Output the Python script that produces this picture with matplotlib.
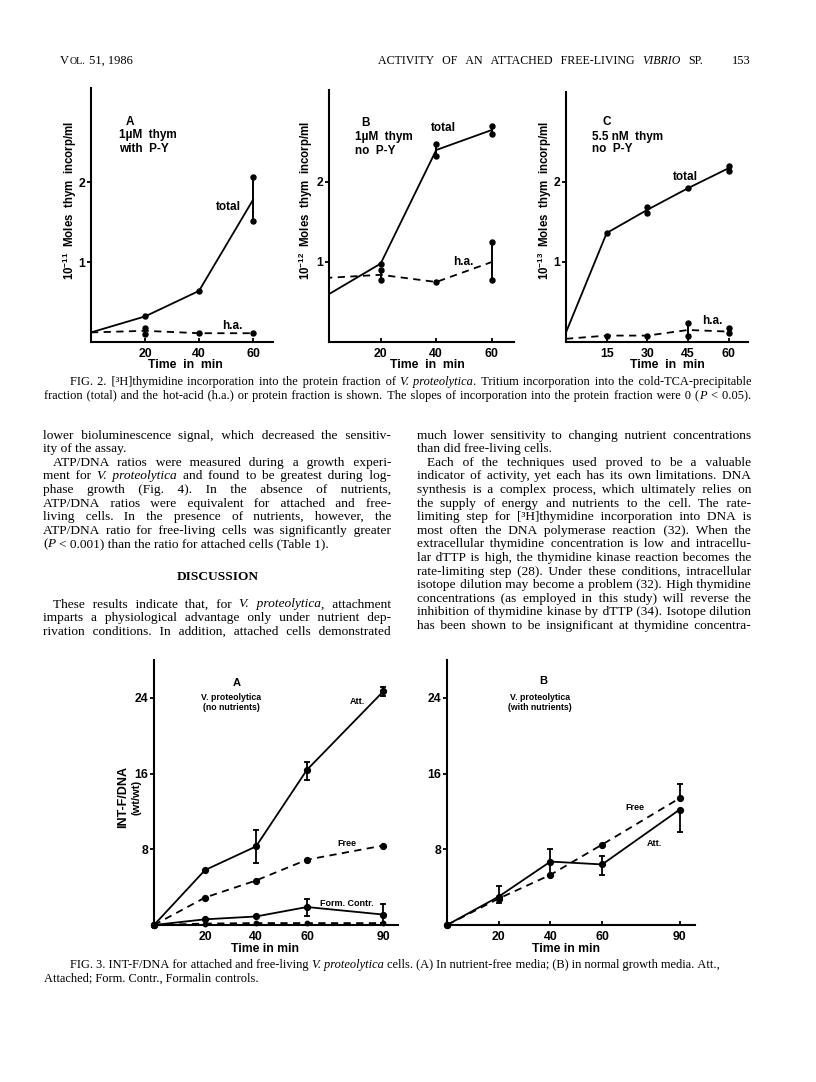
import numpy as np
import matplotlib
matplotlib.use('Agg')
import matplotlib.pyplot as plt

W, H = 816, 1082
SERIF = ['Liberation Serif', 'DejaVu Serif']
SANS = 'Liberation Sans'

plt.rcParams['mathtext.fontset'] = 'custom'
plt.rcParams['mathtext.rm'] = SANS
plt.rcParams['mathtext.bf'] = SANS + ':bold'

# ---- Fig. 2 data (thymidine incorporation) ----
t2 = [0, 20, 40, 60]
t2c = [0, 15, 30, 45, 60]

a_total = [0.12, 0.32, 0.64, 1.78]
a_total_reps = [[], [0.32], [0.64], [1.52, 2.07]]
a_ha = [0.12, 0.14, 0.11, 0.11]
a_ha_reps = [[], [0.10, 0.18], [0.11], [0.11]]

b_total = [0.57, 0.98, 2.40, 2.65]
b_total_reps = [[], [0.98], [2.33, 2.48], [2.60, 2.70]]
b_ha = [0.80, 0.84, 0.75, 1.00]
b_ha_reps = [[], [0.78, 0.90], [0.75], [0.78, 1.25]]

c_total = [0.12, 1.36, 1.65, 1.92, 2.17]
c_total_reps = [[], [1.36], [1.61, 1.68], [1.92], [2.13, 2.20]]
c_ha = [0.04, 0.08, 0.08, 0.15, 0.13]
c_ha_reps = [[], [0.08], [0.08], [0.08, 0.24], [0.11, 0.17]]

fig2_xticks = [20, 40, 60]
fig2c_xticks = [15, 30, 45, 60]
fig2_yticks = [1, 2]

# ---- Fig. 3 data (INT-F/DNA) ----
nan = np.nan
t3 = [0, 20, 40, 60, 90]
att_a = [0, 5.8, 8.3, 16.4, 24.7]
att_a_lo = [nan, nan, 6.6, 15.3, 24.2]
att_a_hi = [nan, nan, 10.0, 17.2, 25.2]
free_a = [0, 2.9, 4.7, 6.9, 8.4]
form_att_a = [0, 0.6, 0.9, 1.9, 1.1]
form_att_a_lo = [nan, nan, nan, 0.9, 0.2]
form_att_a_hi = [nan, nan, nan, 2.8, 2.2]
form_free_a = [0, 0.15, 0.2, 0.2, 0.2]

att_b = [0, 3.0, 6.7, 6.4, 12.2]
att_b_lo = [nan, 2.3, 5.3, 5.3, 9.8]
att_b_hi = [nan, 4.1, 8.0, 7.3, nan]
free_b = [0, 2.8, 5.3, 8.5, 13.4]
free_b_lo = [nan, nan, nan, nan, nan]
free_b_hi = [nan, nan, nan, nan, 14.9]

fig3_xticks = [20, 40, 60, 90]
fig3_yticks = [8, 16, 24]

# ---- page text ----
left_col = [
    ("lower bioluminescence signal, which decreased the sensitiv-", True, 0),
    ("ity of the assay.", False, 0),
    ("ATP/DNA ratios were measured during a growth experi-", True, 10),
    ("ment for _V._ _proteolytica_ and found to be greatest during log-", True, 0),
    ("phase growth (Fig. 4). In the absence of nutrients,", True, 0),
    ("ATP/DNA ratios were equivalent for attached and free-", True, 0),
    ("living cells. In the presence of nutrients, however, the", True, 0),
    ("ATP/DNA ratio for free-living cells was significantly greater", True, 0),
    ("(_P_ < 0.001) than the ratio for attached cells (Table 1).", False, 0),
]
left_col2 = [
    ("These results indicate that, for _V._ _proteolytica_, attachment", True, 10),
    ("imparts a physiological advantage only under nutrient dep-", True, 0),
    ("rivation conditions. In addition, attached cells demonstrated", True, 0),
]
right_col = [
    ("much lower sensitivity to changing nutrient concentrations", True, 0),
    ("than did free-living cells.", False, 0),
    ("Each of the techniques used proved to be a valuable", True, 10),
    ("indicator of activity, yet each has its own limitations. DNA", True, 0),
    ("synthesis is a complex process, which ultimately relies on", True, 0),
    ("the supply of energy and nutrients to the cell. The rate-", True, 0),
    ("limiting step for [\u00b3H]thymidine incorporation into DNA is", True, 0),
    ("most often the DNA polymerase reaction (32). When the", True, 0),
    ("extracellular thymidine concentration is low and intracellu-", True, 0),
    ("lar dTTP is high, the thymidine kinase reaction becomes the", True, 0),
    ("rate-limiting step (28). Under these conditions, intracellular", True, 0),
    ("isotope dilution may become a problem (32). High thymidine", True, 0),
    ("concentrations (as employed in this study) will reverse the", True, 0),
    ("inhibition of thymidine kinase by dTTP (34). Isotope dilution", True, 0),
    ("has been shown to be insignificant at thymidine concentra-", True, 0),
]

fig2_caption = [
    ("FIG. 2. [\u00b3H]thymidine incorporation into the protein fraction of _V._ _proteolytica_. "
     "Tritium incorporation into the cold-TCA-precipitable", True, 26),
    ("fraction (total) and the hot-acid (h.a.) or protein fraction is shown. The slopes of "
     "incorporation into the protein fraction were 0 (_P_ < 0.05).", True, 0),
]
fig3_caption = [
    ("FIG. 3. INT-F/DNA for attached and free-living _V._ _proteolytica_ cells. (A) In "
     "nutrient-free media; (B) in normal growth media. Att.,", False, 26),
    ("Attached; Form. Contr., Formalin controls.", False, 0),
]

LEAD = 13.6  # body text line pitch in pixels

fig = plt.figure(figsize=(W / 100, H / 100), dpi=100)
renderer = fig.canvas.get_renderer()


def ftext(x, y, s, **kw):
    # place text using page pixel coordinates (y down)
    return fig.text(x / W, 1 - y / H, s, **kw)


def text_width(s, size, style='normal', weight='normal'):
    t = fig.text(0, 0, s, fontsize=size, family=SERIF, style=style, weight=weight)
    w = t.get_window_extent(renderer).width
    t.remove()
    return w


def filler(size):
    # smallest usable space glyph, used to stretch word gaps
    for ch in ['\u200a', '\u2009', ' ']:
        w = (text_width('n' + ch * 20 + 'n', size) - text_width('nn', size)) / 20
        if w > 0.4:
            return ch, w
    return ' ', 2.5


def segments(word):
    parts = word.split('_')
    return [(p, 'italic' if i % 2 else 'normal') for i, p in enumerate(parts) if p]


def body_line(s, x0, x1, y, size, justify=True, indent=0, weight='normal'):
    words = [segments(w) for w in s.split(' ')]
    widths = [sum(text_width(p, size, st, weight) for p, st in w) for w in words]
    space = text_width('n n', size) - text_width('nn', size)
    gap = space
    if justify and len(words) > 1:
        gap = (x1 - x0 - indent - sum(widths)) / (len(words) - 1)
    fch, fw = filler(size)
    # runs of same style drawn as one text each, so the baseline stays level
    runs = []
    target = x0 + indent
    for i, w in enumerate(words):
        for j, (p, st) in enumerate(w):
            if runs and runs[-1][1] == st:
                rx, _, rs = runs[-1]
                if j == 0:
                    end = rx + text_width(rs, size, st, weight)
                    k = max(1, int(round((target - end) / fw)))
                    runs[-1][2] = rs + fch * k + p
                else:
                    runs[-1][2] = rs + p
            else:
                if j == 0:
                    rx = target
                else:
                    prx, pst, prs = runs[-1]
                    rx = prx + text_width(prs, size, pst, weight)
                runs.append([rx, st, p])
        target += widths[i] + gap
    for rx, st, rs in runs:
        ftext(rx, y, rs, fontsize=size, family=SERIF, style=st, weight=weight,
              va='baseline', ha='left')


def make_axes(l, r, t, b, xlim, ylim, xticks, yticks):
    ax = fig.add_axes([l / W, 1 - b / H, (r - l) / W, (b - t) / H])
    ax.patch.set_alpha(0)
    ax.spines['top'].set_visible(False)
    ax.spines['right'].set_visible(False)
    ax.spines['left'].set_linewidth(1.5)
    ax.spines['bottom'].set_linewidth(1.5)
    ax.set_xlim(*xlim)
    ax.set_ylim(*ylim)
    ax.set_xticks(xticks)
    ax.set_yticks(yticks)
    ax.set_xticklabels([str(v) for v in xticks], fontweight='bold', family=SANS, fontsize=8.8)
    ax.set_yticklabels([str(v) for v in yticks], fontweight='bold', family=SANS, fontsize=8.8)
    ax.tick_params(axis='y', direction='out', length=3, width=1.3, pad=1)
    ax.tick_params(axis='x', direction='in', length=3, width=1.3, pad=4)
    return ax


def fig2_series(ax, t, vals, reps, dashed):
    ls = (0, (4, 3)) if dashed else '-'
    ax.plot(t, vals, color='k', lw=1.3, ls=ls)
    for ti, r in zip(t, reps):
        if r:
            ax.plot([ti] * len(r), r, color='k', lw=1.4, marker='o', ms=3.6, clip_on=False)


def fig3_series(ax, t, vals, lo, hi, dashed, ms=4.2):
    ls = (0, (4, 3)) if dashed else '-'
    ax.plot(t, vals, color='k', lw=1.3, ls=ls, marker='o', ms=ms, clip_on=False)
    for ti, v, l, h in zip(t, vals, lo, hi):
        for e in (l, h):
            if not np.isnan(e):
                ax.plot([ti, ti], [v, e], color='k', lw=1.3)
                ax.plot(ti, e, color='k', marker='_', ms=5, mew=1.3)


# ---- running head (small caps "Vol.") ----
hx = 60
for piece, sz in [('V', 9), ('OL.', 7.2), (' 51, 1986', 9)]:
    ftext(hx, 64, piece, fontsize=sz, family=SERIF, va='baseline')
    hx += text_width(piece, sz) + 0.6
body_line('ACTIVITY OF AN ATTACHED FREE-LIVING _VIBRIO_ SP.', 378, 703, 64, 8.6)
ftext(751, 64, '153', fontsize=9, family=SERIF, va='baseline', ha='right')

# ---- Fig. 2 panels ----
sans_b = dict(family=SANS, fontweight='bold')

ax = make_axes(91, 273, 88, 342, (0, 67.4), (0, 3.18), fig2_xticks, fig2_yticks)
fig2_series(ax, t2, a_total, a_total_reps, False)
fig2_series(ax, t2, a_ha, a_ha_reps, True)
ftext(130, 122, 'A', fontsize=8.5, ha='center', va='center', **sans_b)
ftext(119, 135, '1\u00b5M  thym', fontsize=8.5, ha='left', va='center', **sans_b)
ftext(119, 149, 'with  P-Y', fontsize=8.5, ha='left', va='center', **sans_b)
ftext(228, 207, 'total', fontsize=8.5, ha='center', va='center', **sans_b)
ftext(232, 326, 'h.a.', fontsize=8.5, ha='center', va='center', **sans_b)
ftext(70, 200, r'$\mathbf{10^{-11}}$  Moles  thym  incorp/ml', fontsize=8.3, rotation=90,
      ha='center', va='center', **sans_b)
ftext(185, 365, 'Time  in  min', fontsize=8.8, ha='center', va='center', **sans_b)

ax = make_axes(329, 514, 90, 342, (1.4, 68.0), (0, 3.15), fig2_xticks, fig2_yticks)
fig2_series(ax, t2, b_total, b_total_reps, False)
fig2_series(ax, t2, b_ha, b_ha_reps, True)
ftext(366, 123, 'B', fontsize=8.5, ha='center', va='center', **sans_b)
ftext(355, 137, '1\u00b5M  thym', fontsize=8.5, ha='left', va='center', **sans_b)
ftext(355, 151, 'no  P-Y', fontsize=8.5, ha='left', va='center', **sans_b)
ftext(443, 128, 'total', fontsize=8.5, ha='center', va='center', **sans_b)
ftext(463, 262, 'h.a.', fontsize=8.5, ha='center', va='center', **sans_b)
ftext(306, 200, r'$\mathbf{10^{-12}}$  Moles  thym  incorp/ml', fontsize=8.3, rotation=90,
      ha='center', va='center', **sans_b)
ftext(427, 365, 'Time  in  min', fontsize=8.8, ha='center', va='center', **sans_b)

ax = make_axes(566, 748, 92, 342, (0, 67.1), (0, 3.12), fig2c_xticks, fig2_yticks)
fig2_series(ax, t2c, c_total, c_total_reps, False)
fig2_series(ax, t2c, c_ha, c_ha_reps, True)
ftext(607, 122, 'C', fontsize=8.5, ha='center', va='center', **sans_b)
ftext(592, 137, '5.5 nM  thym', fontsize=8.5, ha='left', va='center', **sans_b)
ftext(592, 149, 'no  P-Y', fontsize=8.5, ha='left', va='center', **sans_b)
ftext(685, 177, 'total', fontsize=8.5, ha='center', va='center', **sans_b)
ftext(712, 321, 'h.a.', fontsize=8.5, ha='center', va='center', **sans_b)
ftext(545, 200, r'$\mathbf{10^{-13}}$  Moles  thym  incorp/ml', fontsize=8.3, rotation=90,
      ha='center', va='center', **sans_b)
ftext(667, 365, 'Time  in  min', fontsize=8.8, ha='center', va='center', **sans_b)

for k, (s, just, ind) in enumerate(fig2_caption):
    body_line(s, 44, 751, 385 + 14 * k, 8.9, just, ind)

# ---- body text ----
for k, (s, just, ind) in enumerate(left_col):
    body_line(s, 43, 391, 438.5 + LEAD * k, 9.6, just, ind)
ftext(218, 580.5, 'DISCUSSION', fontsize=9.6, family=SERIF, fontweight='bold',
      ha='center', va='baseline')
for k, (s, just, ind) in enumerate(left_col2):
    body_line(s, 43, 391, 607.5 + LEAD * k, 9.6, just, ind)
for k, (s, just, ind) in enumerate(right_col):
    body_line(s, 417, 751, 438.5 + LEAD * k, 9.6, just, ind)

# ---- Fig. 3 panels ----
ax = make_axes(154, 398, 660, 925, (0, 95.7), (0, 28.0), fig3_xticks, fig3_yticks)
fig3_series(ax, t3, att_a, att_a_lo, att_a_hi, False)
fig3_series(ax, t3, free_a, [nan] * 5, [nan] * 5, True)
fig3_series(ax, t3, form_att_a, form_att_a_lo, form_att_a_hi, False)
fig3_series(ax, t3, form_free_a, [nan] * 5, [nan] * 5, True, ms=3.2)
ftext(237, 683, 'A', fontsize=8, ha='center', va='center', **sans_b)
ftext(231, 697, 'V. proteolytica', fontsize=6.3, ha='center', va='center', **sans_b)
ftext(231, 707, '(no nutrients)', fontsize=6.3, ha='center', va='center', **sans_b)
ftext(357, 702, 'Att.', fontsize=6.5, ha='center', va='center', **sans_b)
ftext(347, 843, 'Free', fontsize=6.5, ha='center', va='center', **sans_b)
ftext(347, 904, 'Form. Contr.', fontsize=6.5, ha='center', va='center', **sans_b)
ftext(123, 797, 'INT-F/DNA', fontsize=9, rotation=90, ha='center', va='center', **sans_b)
ftext(137, 797, '(wt/wt)', fontsize=8, rotation=90, ha='center', va='center', **sans_b)
ftext(265, 949, 'Time in min', fontsize=8.8, ha='center', va='center', **sans_b)

ax = make_axes(447, 695, 660, 925, (0, 95.9), (0, 28.0), fig3_xticks, fig3_yticks)
fig3_series(ax, t3, att_b, att_b_lo, att_b_hi, False)
fig3_series(ax, t3, free_b, free_b_lo, free_b_hi, True)
ftext(543, 681, 'B', fontsize=8, ha='center', va='center', **sans_b)
ftext(540, 697, 'V. proteolytica', fontsize=6.3, ha='center', va='center', **sans_b)
ftext(540, 707, '(with nutrients)', fontsize=6.3, ha='center', va='center', **sans_b)
ftext(635, 808, 'Free', fontsize=6.5, ha='center', va='center', **sans_b)
ftext(654, 843, 'Att.', fontsize=6.5, ha='center', va='center', **sans_b)
ftext(566, 949, 'Time in min', fontsize=8.8, ha='center', va='center', **sans_b)

for k, (s, just, ind) in enumerate(fig3_caption):
    body_line(s, 44, 751, 968 + 14 * k, 8.9, just, ind)

fig.savefig('out.png', dpi=100, facecolor='white')
